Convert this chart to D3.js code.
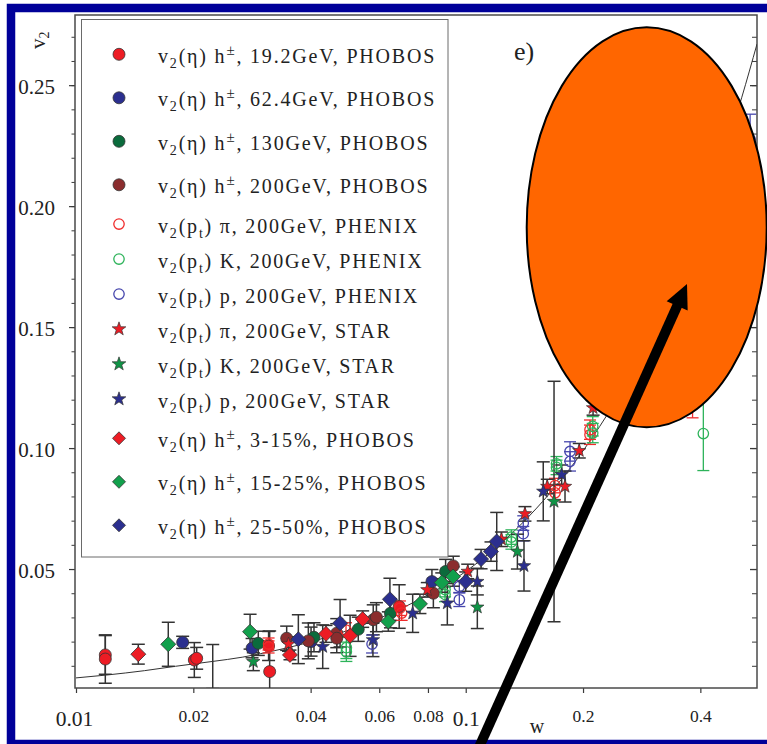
<!DOCTYPE html>
<html><head><meta charset="utf-8">
<script src="https://cdn.jsdelivr.net/npm/d3@7"></script>
<style>
html,body{margin:0;padding:0;background:#fff;}
svg{display:block;font-family:"Liberation Serif","Times New Roman",serif;}
</style></head><body>
<svg id="chart" width="767" height="744"></svg>
<script>
// ---- data: [w, v2, error] ----
const phobos19 = [[0.01189,0.0145,0.0080],[0.01189,0.0128,0.0100],[0.02012,0.0124,0.0072],[0.0204,0.0131,0.0045],
  [0.0314,0.0076,0.0168],[0.0312,0.0182,0.0060],[0.0675,0.0345,0.0090]];
const phobos62 = [[0.01878,0.0197,0.0025],[0.0283,0.0173,0.0040],[0.0401,0.0200,0.0060],[0.0819,0.0448,0.0050]];
const phobos130 = [[0.02936,0.0193,0.0050],[0.0408,0.0218,0.0060],[0.0530,0.0251,0.0050],[0.0641,0.0317,0.0060],[0.0888,0.0490,0.0050]];
const phobos200 = [[0.03472,0.0214,0.0050],[0.03946,0.0203,0.0074],[0.04667,0.0235,0.0060],[0.04667,0.0214,0.0060],
  [0.0579,0.0290,0.0062],[0.0590,0.0301,0.0060],[0.0826,0.0400,0.0060],[0.0929,0.0513,0.0040]];
const phenixPi = [[0.0312,0.0190,0.0025],[0.0312,0.0178,0.0025],[0.0493,0.0248,0.0030],[0.0678,0.0338,0.0030],[0.0685,0.0318,0.0030],
  [0.1695,0.0845,0.0030],[0.1695,0.0815,0.0030],[0.2084,0.1076,0.0040],[0.2084,0.1055,0.0040],[0.382,0.1190,0.0065]];
const phenixK = [[0.0494,0.0175,0.0045],[0.0494,0.0158,0.0040],[0.0885,0.0415,0.0030],[0.0885,0.0395,0.0030],
  [0.1310,0.0632,0.0030],[0.1310,0.0612,0.0030],[0.1710,0.0935,0.0030],[0.1710,0.0920,0.0030],
  [0.2118,0.1090,0.0040],[0.2118,0.1062,0.0040],[0.4071,0.1060,0.0153]];
const phenixP = [[0.0575,0.0190,0.0037],[0.0963,0.0428,0.0025],[0.0963,0.0373,0.0028],[0.1405,0.0690,0.0030],[0.1405,0.0646,0.0030],
  [0.1852,0.0986,0.0040],[0.1852,0.0945,0.0040],[0.5367,0.2276,0.0104]];
const starPi = [[0.0351,0.0190,0.0030],[0.0797,0.0414,0.0030],[0.1012,0.0490,0.0030],[0.1235,0.0623,0.0030],[0.1419,0.0728,0.0030],
  [0.1619,0.0841,0.0030],[0.1798,0.0841,0.0064],[0.1956,0.0989,0.0030],[0.2122,0.1166,0.0030]];
const starK = [[0.02851,0.0117,0.0037],[0.1071,0.0342,0.0088],[0.1357,0.0572,0.0072],[0.1685,0.0779,0.0497]];
const starP = [[0.04296,0.0179,0.0090],[0.0578,0.0207,0.0069],[0.0731,0.0317,0.0079],[0.0897,0.0359,0.0090],
  [0.1071,0.0448,0.0055],[0.1411,0.0513,0.0104],[0.1581,0.0821,0.0122],[0.1763,0.0890,0.0040]];
const phobos3to15 = [[0.01445,0.0148,0.0041],[0.0354,0.0145,0.0020],[0.0438,0.0232,0.0035],[0.0505,0.0224,0.0085],[0.0544,0.0293,0.0034]];
const phobos15to25 = [[0.01725,0.0189,0.0091],[0.02797,0.0241,0.0072],[0.0633,0.0283,0.0040],[0.0763,0.0356,0.0040],
  [0.0868,0.0444,0.0040],[0.0928,0.0469,0.0040]];
const phobos25to50 = [[0.0372,0.0210,0.0101],[0.0476,0.0276,0.0098],[0.0639,0.0375,0.0087],[0.1000,0.0448,0.0040],
  [0.1095,0.0541,0.0040],[0.1161,0.0572,0.0040],[0.1201,0.0614,0.0120]];
// error bar without a visible marker
const bareBars = [[0.02243,0.0097,0.0091]];

// scaling curve v2(w)
const curveW = [0.01,0.012,0.015,0.018,0.0224,0.0268,0.0297,0.04,0.05,0.07,0.1026,0.1235,0.1521,0.2003,0.2278,0.3,0.4,0.511,0.559];
const curveV = [0.0050,0.0062,0.0080,0.0098,0.0118,0.0136,0.0150,0.0199,0.0247,0.0345,0.0503,0.0608,0.0752,0.0990,0.1124,0.147,0.194,0.245,0.267];

const seriesData = [phobos19, phobos62, phobos130, phobos200, phenixPi, phenixK, phenixP, starPi, starK, starP, phobos3to15, phobos15to25, phobos25to50];
const seriesLabels = [
  "v_{2}(η) h^{±}, 19.2GeV, PHOBOS",
  "v_{2}(η) h^{±}, 62.4GeV, PHOBOS",
  "v_{2}(η) h^{±}, 130GeV, PHOBOS",
  "v_{2}(η) h^{±}, 200GeV, PHOBOS",
  "v_{2}(p_{t}) π, 200GeV, PHENIX",
  "v_{2}(p_{t}) K, 200GeV, PHENIX",
  "v_{2}(p_{t}) p, 200GeV, PHENIX",
  "v_{2}(p_{t}) π, 200GeV, STAR",
  "v_{2}(p_{t}) K, 200GeV, STAR",
  "v_{2}(p_{t}) p, 200GeV, STAR",
  "v_{2}(η) h^{±}, 3-15%, PHOBOS",
  "v_{2}(η) h^{±}, 15-25%, PHOBOS",
  "v_{2}(η) h^{±}, 25-50%, PHOBOS"
];
const seriesShapes = ["circle","circle","circle","circle","open","open","open","star","star","star","diamond","diamond","diamond"];
const seriesColors = ["#ed1c24","#2b2f8f","#0b6b3c","#8b2d2e","#f02b2b","#2db35a","#4646ad","#ed1c24","#0f9446","#2b2f8f","#ed1c24","#12a04c","#2b2f8f"];

const xTickValues = [0.01,0.02,0.04,0.06,0.08,0.1,0.2,0.4];
const xTickLabels = ["0.01","0.02","0.04","0.06","0.08","0.1","0.2","0.4"];
const yTickValues = [0.05,0.10,0.15,0.20,0.25];
const yTickLabels = ["0.05","0.10","0.15","0.20","0.25"];
const yMinorValues = d3.range(1,28).map(i => i/100);

// ---- layout ----
const svg = d3.select("#chart");
const L = 75, R = 757, T = 15, B = 688;
const x = d3.scaleLog().domain([0.01, 0.559]).range([76, R]);
const y = d3.scaleLinear().domain([0, 0.279]).range([690, T]);

svg.append("rect").attr("width",767).attr("height",744).attr("fill","#fff");

svg.append("defs").append("clipPath").attr("id","plotClip")
  .append("rect").attr("x",L).attr("y",T).attr("width",R-L).attr("height",B-T);

const axisColor = "#3a3a3a";

// left axis: labelled majors + minors
const yAxisG = svg.append("g").attr("transform",`translate(${L},0)`)
  .call(d3.axisLeft(y).tickValues(yTickValues).tickSize(6).tickPadding(14).tickFormat((d,i)=>yTickLabels[i]));
yAxisG.select(".domain").remove();
yAxisG.selectAll("line").attr("stroke",axisColor).attr("stroke-width",1.2);
yAxisG.selectAll("text").attr("font-size",21).attr("dy","0.4em").attr("fill","#222")
  .attr("font-family",'"Liberation Serif",serif');
const yMinG = svg.append("g").attr("transform",`translate(${L},0)`)
  .call(d3.axisLeft(y).tickValues(yMinorValues).tickSize(3.5).tickFormat(""));
yMinG.select(".domain").remove();
yMinG.selectAll("line").attr("stroke",axisColor).attr("stroke-width",1);

// right axis: inward ticks
const rMaj = svg.append("g").attr("transform",`translate(${R},0)`)
  .call(d3.axisRight(y).tickValues(yTickValues).tickSize(-7).tickFormat(""));
rMaj.select(".domain").remove();
rMaj.selectAll("line").attr("stroke",axisColor).attr("stroke-width",1.3);
const rMin = svg.append("g").attr("transform",`translate(${R},0)`)
  .call(d3.axisRight(y).tickValues(yMinorValues).tickSize(-5).tickFormat(""));
rMin.select(".domain").remove();
rMin.selectAll("line").attr("stroke",axisColor).attr("stroke-width",1);

// bottom axis
const xAxisG = svg.append("g").attr("transform",`translate(0,${B})`)
  .call(d3.axisBottom(x).tickValues(xTickValues).tickSize(5).tickFormat((d,i)=>xTickLabels[i]));
xAxisG.select(".domain").remove();
xAxisG.selectAll("line").attr("stroke",axisColor).attr("stroke-width",1.2);
xAxisG.selectAll("text")
  .attr("font-family",'"Liberation Serif",serif').attr("fill","#222")
  .attr("dy",0)
  .attr("font-size",d => (d===0.01||d===0.1) ? 21.5 : 17.5)
  .attr("y",d => (d===0.01||d===0.1) ? 38 : 33.5)
  .attr("dx",d => d===0.01 ? -2 : 0);

// plot frame
svg.append("rect").attr("x",L).attr("y",T).attr("width",R-L).attr("height",B-T)
  .attr("fill","none").attr("stroke","#4a4a4a").attr("stroke-width",1.5);

// axis titles
const yt = svg.append("text").attr("transform","translate(45,49) rotate(-90)")
  .attr("font-size",21).attr("fill","#222");
yt.append("tspan").text("v");
yt.append("tspan").attr("dy",4).attr("font-size",14).text("2");
svg.append("text").attr("x",537).attr("y",733).attr("text-anchor","middle")
  .attr("font-size",20).attr("fill","#222").text("w");
svg.append("text").attr("x",514).attr("y",60).attr("font-size",26).attr("fill","#222").text("e)");

// plotted content (clipped)
const plot = svg.append("g").attr("clip-path","url(#plotClip)");

const curvePts = curveW.map((w,i)=>[x(w), y(curveV[i])]);
plot.append("path").attr("d", d3.line().curve(d3.curveMonotoneX)(curvePts))
  .attr("fill","none").attr("stroke","#333").attr("stroke-width",1);

function errorBar(g, d, cap) {
  const cx = x(d[0]), y1 = y(d[1]-d[2]), y2 = y(d[1]+d[2]);
  g.append("line").attr("x1",cx).attr("x2",cx).attr("y1",y1).attr("y2",y2);
  g.append("line").attr("x1",cx-cap/2).attr("x2",cx+cap/2).attr("y1",y1).attr("y2",y1);
  g.append("line").attr("x1",cx-cap/2).attr("x2",cx+cap/2).attr("y1",y2).attr("y2",y2);
}
const barG = plot.append("g");
bareBars.forEach(d => errorBar(barG.append("g").attr("stroke","#333").attr("stroke-width",1.5), d, 13));
seriesData.forEach((arr,si) => {
  const open = seriesShapes[si]==="open";
  const g = barG.append("g").attr("stroke", open ? seriesColors[si] : "#333").attr("stroke-width", open ? 1.3 : 1.5);
  arr.forEach(d => errorBar(g, d, open ? 12 : 13));
});

function starPath(r) {
  const pts = [];
  for (let i=0;i<10;i++){
    const a = -Math.PI/2 + i*Math.PI/5, rr = i%2 ? r*0.4 : r;
    pts.push([rr*Math.cos(a), rr*Math.sin(a)]);
  }
  return "M"+pts.map(p=>p[0].toFixed(2)+","+p[1].toFixed(2)).join("L")+"Z";
}
function diamondPath(s){ return `M0,${-s}L${s},0L0,${s}L${-s},0Z`; }

function drawMarker(g, shape, color, cx, cy, big) {
  if (shape==="circle") {
    g.append("circle").attr("cx",cx).attr("cy",cy).attr("r",6)
      .attr("fill",color).attr("stroke","#333").attr("stroke-width",0.8);
  } else if (shape==="open") {
    g.append("circle").attr("cx",cx).attr("cy",cy).attr("r",5.2)
      .attr("fill","none").attr("stroke",color).attr("stroke-width",1.3);
  } else if (shape==="star") {
    g.append("path").attr("transform",`translate(${cx},${cy})`).attr("d",starPath(big?7:7.2))
      .attr("fill",color).attr("stroke","#333").attr("stroke-width",0.7);
  } else {
    g.append("path").attr("transform",`translate(${cx},${cy})`).attr("d",diamondPath(big?7.5:6.5))
      .attr("fill",color).attr("stroke","#333").attr("stroke-width",0.8);
  }
}
const markG = plot.append("g");
seriesData.forEach((arr,si) => {
  arr.forEach(d => drawMarker(markG, seriesShapes[si], seriesColors[si], x(d[0]), y(d[1]), true));
});

// legend
svg.append("rect").attr("x",81.5).attr("y",19.5).attr("width",366.5).attr("height",537.5)
  .attr("fill","#fff").attr("stroke","#6a6a6a").attr("stroke-width",1);

function richText(g, str, tx, ty, size) {
  const t = g.append("text").attr("x",tx).attr("y",ty).attr("font-size",size)
    .attr("fill","#222").attr("letter-spacing","1.8px");
  const re = /_\{([^}]*)\}|\^\{([^}]*)\}|([^_^]+)/g;
  let m, cur = 0;
  while ((m = re.exec(str))) {
    let target = 0, fs = size, txt;
    if (m[1] !== undefined) { target = 5; fs = size*0.7; txt = m[1]; }
    else if (m[2] !== undefined) { target = -8; fs = size*0.75; txt = m[2]; }
    else { txt = m[3]; }
    t.append("tspan").attr("dy", target-cur).attr("font-size", fs).text(txt);
    cur = target;
  }
  return t;
}

const legG = svg.append("g");
let rowY = 54.3, prevH = null;
seriesLabels.forEach((lab,i) => {
  const h = lab.includes("^{") ? 43.5 : 35;
  if (prevH !== null) rowY += (prevH + h)/2;
  prevH = h;
  drawMarker(legG, seriesShapes[i], seriesColors[i], 119, rowY, false);
  richText(legG, lab, 158, rowY + 8.5, 20);
});

// highlight ellipse
svg.append("ellipse").attr("cx",646.7).attr("cy",227.3).attr("rx",120).attr("ry",200)
  .attr("fill","#ff6600").attr("stroke","#000").attr("stroke-width",2);

// navy frame
svg.append("rect").attr("x",11).attr("y",8).attr("width",775).attr("height",736)
  .attr("fill","none").attr("stroke","#000099").attr("stroke-width",8.5);

// pointer arrow
const tip = [687, 284], tail = [473.3, 760];
const len = Math.hypot(tip[0]-tail[0], tip[1]-tail[1]);
const ux = (tip[0]-tail[0])/len, uy = (tip[1]-tail[1])/len;
const hl = 24, hw = 11.5;
const base = [tip[0]-hl*ux, tip[1]-hl*uy];
svg.append("line").attr("x1",tail[0]).attr("y1",tail[1]).attr("x2",base[0]+2*ux).attr("y2",base[1]+2*uy)
  .attr("stroke","#000").attr("stroke-width",10);
svg.append("path").attr("d",`M${tip[0]},${tip[1]}L${base[0]-hw*uy},${base[1]+hw*ux}L${base[0]+hw*uy},${base[1]-hw*ux}Z`)
  .attr("fill","#000");
</script>
</body></html>
